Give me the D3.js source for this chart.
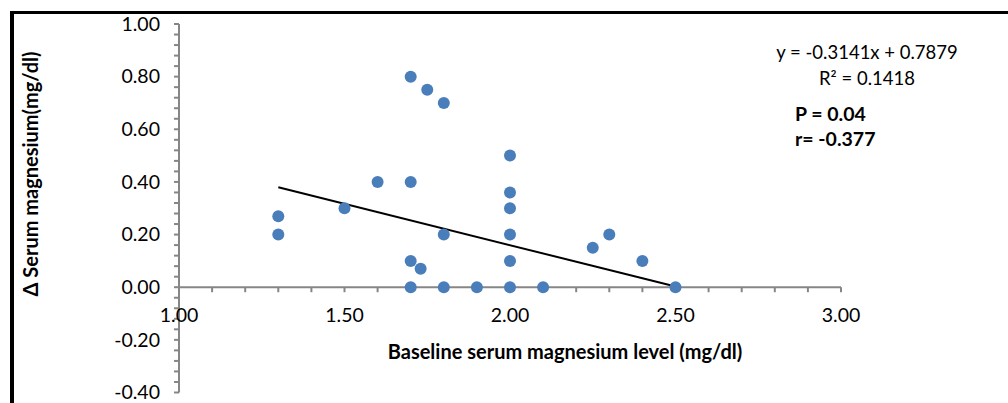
<!DOCTYPE html>
<html>
<head>
<meta charset="utf-8">
<script src="https://cdn.jsdelivr.net/npm/d3@7"></script>
<style>
  body { margin: 0; background: #fff; }
  svg { display: block; font-family: Lato, "Open Sans", sans-serif; }
  .axis path, .axis line { stroke: #868686; stroke-width: 2; }
  .axis text { font-size: 19.5px; fill: #000; font-family: Lato, sans-serif; }
</style>
</head>
<body>
<svg id="chart" width="1008" height="403"></svg>
<script>
'use strict';

// baseline serum Mg (x) vs change in serum Mg (y)
const baseline = [1.30, 1.30, 1.50, 1.60, 1.70, 1.75, 1.80, 1.70, 1.70, 1.73, 1.70, 1.80, 1.80, 1.90,
  2.00, 2.00, 2.00, 2.00, 2.00, 2.00, 2.10, 2.25, 2.30, 2.40, 2.50];
const delta = [0.27, 0.20, 0.30, 0.40, 0.80, 0.75, 0.70, 0.40, 0.10, 0.07, 0.00, 0.20, 0.00, 0.00,
  0.50, 0.36, 0.30, 0.20, 0.10, 0.00, 0.00, 0.15, 0.20, 0.10, 0.00];

const trendSlope = -0.3141;
const trendIntercept = 0.7879;

const xTicks = [1.0, 1.5, 2.0, 2.5, 3.0];
const yTicks = [-0.4, -0.2, 0.0, 0.2, 0.4, 0.6, 0.8, 1.0];

const annotations = ['y = -0.3141x + 0.7879', 'R² = 0.1418'];
const stats = ['P = 0.04', 'r= -0.377'];

// excel style: plain hyphen for negatives
const fmt = d => d3.format('.2f')(d).replace('\u2212', '-');

const svg = d3.select('#chart');

// frame (only top and left edges fall inside the picture)
svg.append('line').attr('x1', 12).attr('x2', 1008).attr('y1', 12.5).attr('y2', 12.5)
  .attr('stroke', '#000').attr('stroke-width', 3);
svg.append('line').attr('x1', 12).attr('x2', 12).attr('y1', 11).attr('y2', 403)
  .attr('stroke', '#000').attr('stroke-width', 4);

const xScale = d3.scaleLinear().domain([1, 3]).range([179, 841]);
const yScale = d3.scaleLinear().domain([-0.4, 1]).range([392.5, 24]);

// minor ticks
const xMinor = d3.range(10, 31).map(d => d / 10);
const yMinor = d3.range(-10, 26).map(d => d * 0.04);

const yAxisG = svg.append('g').attr('class', 'axis')
  .attr('transform', `translate(${xScale(1)},0)`);
yAxisG.append('line').attr('y1', yScale(-0.4)).attr('y2', yScale(1));
yAxisG.selectAll('.minor').data(yMinor).enter().append('line')
  .attr('x1', -5).attr('x2', 0)
  .attr('y1', d => yScale(d)).attr('y2', d => yScale(d));
yAxisG.selectAll('text').data(yTicks).enter().append('text')
  .attr('x', -19).attr('y', d => yScale(d)).attr('dy', '0.35em')
  .attr('text-anchor', 'end')
  .text(fmt);

const xAxisG = svg.append('g').attr('class', 'axis')
  .attr('transform', `translate(0,${yScale(0)})`);
xAxisG.append('line').attr('x1', xScale(1)).attr('x2', xScale(3));
xAxisG.selectAll('.minor').data(xMinor).enter().append('line')
  .attr('y1', 0).attr('y2', 5)
  .attr('x1', d => xScale(d)).attr('x2', d => xScale(d));
xAxisG.selectAll('text').data(xTicks).enter().append('text')
  .attr('x', d => xScale(d)).attr('y', 35)
  .attr('text-anchor', 'middle')
  .text(fmt);

// trendline over data range
const xr = d3.extent(baseline);
svg.append('line')
  .attr('x1', xScale(xr[0])).attr('y1', yScale(trendSlope * xr[0] + trendIntercept))
  .attr('x2', xScale(xr[1])).attr('y2', yScale(trendSlope * xr[1] + trendIntercept))
  .attr('stroke', '#000').attr('stroke-width', 2);

// points
svg.selectAll('circle').data(baseline).enter().append('circle')
  .attr('cx', d => xScale(d))
  .attr('cy', (d, i) => yScale(delta[i]))
  .attr('r', 6)
  .attr('fill', '#4a7ebb');

// axis titles
svg.append('text')
  .attr('transform', 'translate(38,174) rotate(-90)')
  .attr('text-anchor', 'middle')
  .attr('font-size', 20).attr('font-weight', 'bold')
  .text('Δ Serum magnesium(mg/dl)');
svg.append('text')
  .attr('x', 565).attr('y', 359)
  .attr('text-anchor', 'middle')
  .attr('font-size', 20).attr('font-weight', 'bold')
  .text('Baseline serum magnesium level (mg/dl)');

// regression annotation
svg.selectAll('.eq').data(annotations).enter().append('text')
  .attr('x', 867).attr('y', (d, i) => 59 + i * 26)
  .attr('text-anchor', 'middle')
  .attr('font-size', 18.5)
  .text(d => d);
svg.selectAll('.st').data(stats).enter().append('text')
  .attr('x', 795).attr('y', (d, i) => 121 + i * 25)
  .attr('font-size', 19.5).attr('font-weight', 'bold')
  .text(d => d);
</script>
</body>
</html>
